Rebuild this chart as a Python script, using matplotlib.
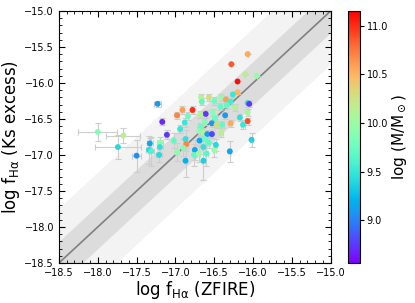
import numpy as np
import matplotlib
matplotlib.use("Agg")
import matplotlib.pyplot as plt
from matplotlib.ticker import MultipleLocator

# log f_Halpha from ZFIRE spectra vs. from Ks-band excess, coloured by stellar mass
log_f_zfire = [
    -16.07, -16.28, -16.10, -15.95, -16.20, -16.20, -16.26, -16.67, -16.57, -16.41,
    -16.35, -16.50, -16.29, -16.34, -16.42, -16.07, -16.05, -16.91, -16.78, -16.98,
    -16.84, -16.88, -16.61, -16.68, -16.52, -16.49, -16.36, -16.23, -16.17, -16.07,
    -16.07, -17.17, -16.62, -16.53, -16.47, -16.40, -16.29, -16.68, -16.66, -16.94,
    -16.69, -16.64, -16.59, -16.53, -16.41, -17.11, -17.02, -16.87, -16.69, -16.62,
    -16.57, -16.86, -16.90, -16.98, -16.75, -16.76, -16.70, -16.64, -16.60, -16.50,
    -16.48, -16.30, -16.02, -16.87, -16.64, -17.23, -18.00, -17.67, -17.74, -17.50,
    -17.33, -17.20, -17.34, -17.31, -17.20, -17.21, -16.13,
]
log_f_ks = [
    -15.60, -15.74, -15.88, -15.90, -15.98, -16.13, -16.16, -16.20, -16.20, -16.20,
    -16.23, -16.25, -16.26, -16.31, -16.33, -16.28, -16.29, -16.375, -16.375, -16.45,
    -16.46, -16.55, -16.43, -16.44, -16.41, -16.49, -16.45, -16.34, -16.48, -16.53,
    -16.41, -16.54, -16.54, -16.56, -16.58, -16.58, -16.56, -16.61, -16.26, -16.64,
    -16.67, -16.69, -16.71, -16.71, -16.69, -16.72, -16.80, -16.78, -16.80, -16.78,
    -16.83, -16.85, -16.90, -16.96, -16.93, -17.00, -16.98, -16.89, -16.98, -16.93,
    -16.86, -16.95, -16.79, -17.08, -17.08, -16.29, -16.68, -16.73, -16.89, -17.01,
    -16.84, -16.83, -16.93, -16.95, -16.89, -17.00, -16.58,
]
err_zfire = [
    0.0, 0.0, 0.0, 0.0, 0.0, 0.0, 0.0, 0.02, 0.02, 0.02,
    0.02, 0.02, 0.02, 0.02, 0.02, 0.02, 0.02, 0.02, 0.02, 0.02,
    0.02, 0.02, 0.02, 0.02, 0.02, 0.02, 0.02, 0.02, 0.02, 0.02,
    0.02, 0.02, 0.02, 0.02, 0.02, 0.02, 0.02, 0.02, 0.02, 0.02,
    0.02, 0.02, 0.02, 0.02, 0.02, 0.02, 0.02, 0.02, 0.02, 0.02,
    0.02, 0.02, 0.02, 0.02, 0.02, 0.02, 0.02, 0.02, 0.02, 0.02,
    0.02, 0.02, 0.02, 0.02, 0.02, 0.05, 0.25, 0.22, 0.30, 0.06,
    0.04, 0.04, 0.04, 0.04, 0.04, 0.04, 0.02,
]
err_ks = [
    0.0, 0.0, 0.0, 0.0, 0.0, 0.03, 0.03, 0.05, 0.05, 0.05,
    0.05, 0.05, 0.05, 0.05, 0.05, 0.05, 0.05, 0.05, 0.05, 0.05,
    0.06, 0.06, 0.05, 0.05, 0.05, 0.05, 0.05, 0.05, 0.05, 0.05,
    0.05, 0.05, 0.05, 0.05, 0.05, 0.05, 0.05, 0.05, 0.05, 0.06,
    0.06, 0.06, 0.06, 0.06, 0.06, 0.06, 0.10, 0.12, 0.08, 0.08,
    0.08, 0.10, 0.12, 0.12, 0.14, 0.15, 0.12, 0.10, 0.18, 0.10,
    0.08, 0.15, 0.10, 0.22, 0.27, 0.04, 0.12, 0.10, 0.17, 0.22,
    0.08, 0.08, 0.20, 0.20, 0.10, 0.10, 0.06,
]
log_mass = [
    10.55, 10.85, 10.15, 9.95, 11.10, 10.50, 9.50, 10.10, 10.30, 9.95,
    10.60, 9.75, 9.55, 9.70, 9.70, 9.45, 8.75, 10.60, 11.00, 10.70,
    9.75, 9.50, 8.75, 10.10, 9.90, 9.75, 9.10, 10.10, 9.45, 10.90,
    10.05, 8.70, 9.85, 9.10, 10.30, 9.70, 10.55, 9.75, 9.70, 9.50,
    9.90, 10.10, 9.10, 8.80, 10.15, 8.75, 9.70, 9.45, 9.15, 9.75,
    9.70, 10.70, 9.85, 9.90, 9.15, 9.70, 10.00, 9.45, 9.65, 10.00,
    9.40, 9.15, 9.35, 9.20, 9.35, 9.10, 9.85, 10.15, 9.40, 9.05,
    9.15, 9.90, 9.40, 9.60, 9.45, 9.40, 9.50,
]

lim = (-18.5, -15.0)
inner_band = 0.3
outer_band = 0.75

fig = plt.figure(figsize=(4.15, 3.03), dpi=100)
ax = fig.add_axes([0.142, 0.132, 0.655, 0.832])
cax = fig.add_axes([0.839, 0.132, 0.029, 0.832])

one2one = np.array(lim)
ax.fill_between(one2one, one2one - outer_band, one2one + outer_band,
                color="#f3f3f3", lw=0, zorder=0)
ax.fill_between(one2one, one2one - inner_band, one2one + inner_band,
                color="#dcdcdc", lw=0, zorder=0)
ax.plot(one2one, one2one, color="gray", lw=1.2, zorder=1)

ax.errorbar(log_f_zfire, log_f_ks, xerr=err_zfire, yerr=err_ks, fmt="none",
            ecolor="#cdcdcd", elinewidth=0.8, capsize=2, capthick=0.8, zorder=2)
sc = ax.scatter(log_f_zfire, log_f_ks, c=log_mass, cmap="rainbow",
                vmin=8.56, vmax=11.15, s=18, edgecolors="none", zorder=3)

ax.set_xlim(lim)
ax.set_ylim(lim)
ax.xaxis.set_major_locator(MultipleLocator(0.5))
ax.yaxis.set_major_locator(MultipleLocator(0.5))
ax.xaxis.set_minor_locator(MultipleLocator(0.1))
ax.yaxis.set_minor_locator(MultipleLocator(0.1))
ax.tick_params(which="both", direction="in", top=True, right=True, labelsize=7)
ax.tick_params(which="major", length=4)
ax.tick_params(which="minor", length=2)
ax.set_xlabel(r"log f$_{\rm H\alpha}$ (ZFIRE)", fontsize=12, labelpad=1)
ax.set_ylabel(r"log f$_{\rm H\alpha}$ (Ks excess)", fontsize=12, labelpad=2)

cb = fig.colorbar(sc, cax=cax, ticks=[9.0, 9.5, 10.0, 10.5, 11.0])
cb.ax.tick_params(labelsize=7, length=3, pad=1.5)
cb.set_label(r"log (M/M$_\odot$)", fontsize=11, labelpad=2)

fig.savefig("out.png", dpi=100)
